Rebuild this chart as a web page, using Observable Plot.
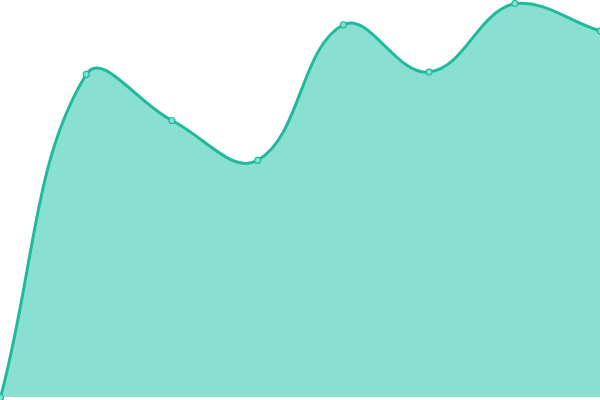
<!DOCTYPE html>
<html><head><meta charset="utf-8">
<script src="https://cdn.jsdelivr.net/npm/d3@7"></script>
<script src="https://cdn.jsdelivr.net/npm/@observablehq/plot@0.6"></script>
<style>body{margin:0;background:#fff}</style>
</head><body><div id="chart"></div>
<script>
const xs = [0, 1, 2, 3, 4, 5, 6, 7];
const values = [0, 82, 70.3, 60.2, 94.6, 82.6, 100, 93];
const data = xs.map((x, i) => ({x, y: values[i]}));

// Tension-based spline (distance-weighted), control points capped to the canvas
function splineCurve(tension, yMin, yMax) {
  return function(context) {
    return {
      areaStart() { this._line = 0; },
      areaEnd() { this._line = NaN; },
      lineStart() { this._pts = []; },
      point(x, y) { this._pts.push([+x, +y]); },
      lineEnd() {
        const p = this._pts, n = p.length;
        if (n) {
          if (this._line) context.lineTo(p[0][0], p[0][1]);
          else context.moveTo(p[0][0], p[0][1]);
          const cps = p.map((cur, i) => {
            const prev = p[i - 1] || cur, next = p[i + 1] || cur;
            const d01 = Math.hypot(cur[0] - prev[0], cur[1] - prev[1]);
            const d12 = Math.hypot(next[0] - cur[0], next[1] - cur[1]);
            let s01 = d01 / (d01 + d12), s12 = d12 / (d01 + d12);
            if (isNaN(s01)) s01 = 0;
            if (isNaN(s12)) s12 = 0;
            const fa = tension * s01, fb = tension * s12;
            const cap = v => Math.max(yMin, Math.min(yMax, v));
            return {
              pIn: [cur[0] - fa * (next[0] - prev[0]), cap(cur[1] - fa * (next[1] - prev[1]))],
              pOut: [cur[0] + fb * (next[0] - prev[0]), cap(cur[1] + fb * (next[1] - prev[1]))]
            };
          });
          for (let i = 1; i < n; ++i) {
            const a = cps[i - 1].pOut, b = cps[i].pIn;
            context.bezierCurveTo(a[0], a[1], b[0], b[1], p[i][0], p[i][1]);
          }
        }
        if (this._line || (this._line !== 0 && n === 1)) context.closePath();
        this._line = 1 - this._line;
      }
    };
  };
}
const curve = splineCurve(0.4, 0, 400);

const plot = Plot.plot({
  width: 600, height: 400,
  marginTop: 3, marginBottom: 3, marginLeft: 0, marginRight: 0,
  x: {domain: [0, 7], axis: null},
  y: {domain: [0, 100], axis: null},
  marks: [
    Plot.areaY(data, {x: "x", y1: 0, y2: "y", curve, fill: "#8ae0d0"}),
    Plot.lineY(data, {x: "x", y: "y", curve, stroke: "#1fba9a", strokeWidth: 3}),
    Plot.dot(data, {x: "x", y: "y", r: 3, fill: "#8ae0d0", stroke: "#1fba9a", strokeWidth: 1.2})
  ]
});
document.getElementById("chart").appendChild(plot);
</script></body></html>
